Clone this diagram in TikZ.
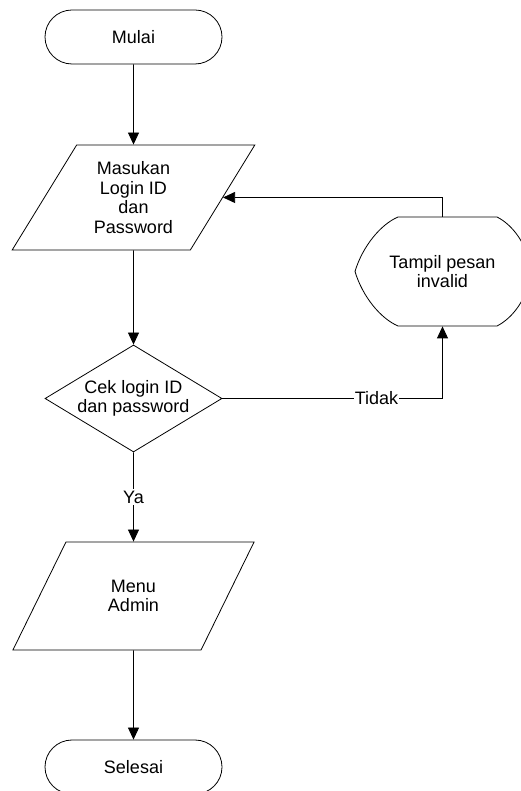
\documentclass[tikz,border=0pt]{standalone}
\usepackage{fontspec}
\setmainfont{Liberation Sans}
\usetikzlibrary{arrows.meta,shapes.geometric,shapes.misc}

\begin{document}
\begin{tikzpicture}[x=1pt,y=1pt,line width=0.8pt,
  every node/.style={font=\fontsize{18}{19.5}\selectfont, align=center},
  terminal/.style={draw, rounded rectangle, minimum width=177pt, minimum height=54pt, inner sep=0pt},
  io/.style={draw, trapezium, trapezium left angle=58, trapezium right angle=122, minimum width=243pt, minimum height=105pt, trapezium stretches=true, inner sep=0pt},
  decision/.style={draw, diamond, shape aspect=1.65, minimum width=177pt, minimum height=107pt, inner sep=0pt},
  arr/.style={-{Triangle[length=12pt,width=11pt]}}]
\useasboundingbox (0,0) rectangle (520,791);

\node[terminal] (mulai) at (133.5,754) {Mulai};
\node[io] (input) at (133.5,593.5) {Masukan\\Login ID\\dan\\Password};
\node[decision] (cek) at (133.5,392.5) {Cek login ID\\dan password};
\node[minimum width=175pt, minimum height=109pt] (tampil) at (442.5,519.5) {Tampil pesan\\invalid};
\node[io, minimum height=108pt] (menu) at (133.5,195) {Menu\\Admin};
\node[terminal] (selesai) at (133.5,24) {Selesai};

\draw[shift={(tampil.center)}] (-44.5,54.5) -- (54.5,54.5)
  .. controls (69.5,47) and (86,27) .. (88,0)
  .. controls (86,-27) and (69.5,-47) .. (54.5,-54.5) -- (-44.5,-54.5)
  .. controls (-62,-47) and (-80,-25) .. (-87.5,0)
  .. controls (-80,25) and (-62,47) .. cycle;

\draw[arr] (mulai) -- (input);
\draw[arr] (input) -- (cek);
\draw[arr] (cek.east) -| node[pos=0.35, fill=white, inner sep=1pt]{Tidak} (tampil.south);
\draw[arr] (tampil.north) |- (input.east);
\draw[arr] (cek) -- node[fill=white, inner sep=2pt]{Ya} (menu);
\draw[arr] (menu) -- (selesai);

\end{tikzpicture}
\end{document}
